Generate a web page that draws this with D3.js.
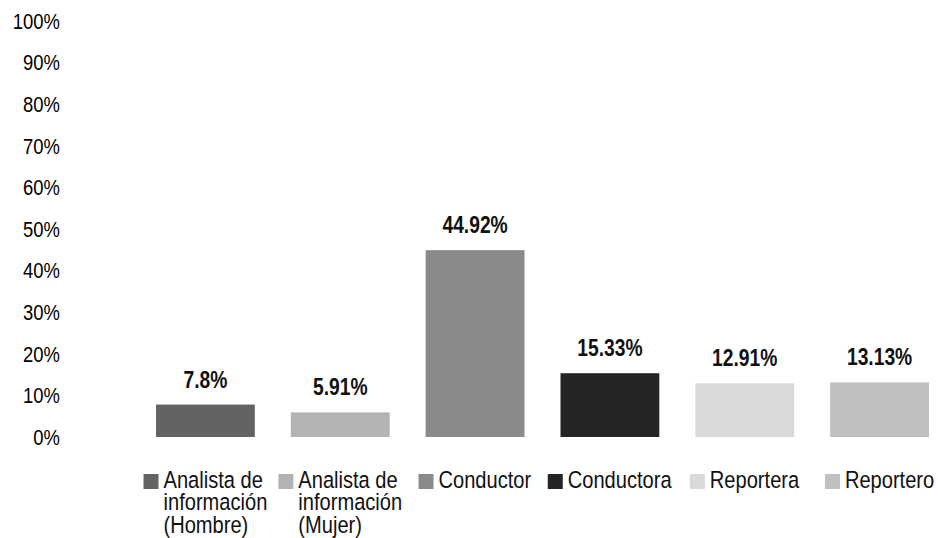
<!DOCTYPE html>
<html>
<head>
<meta charset="utf-8">
<script src="https://cdn.jsdelivr.net/npm/d3@7"></script>
<style>
  html, body { margin: 0; padding: 0; background: #fff; }
  svg { display: block; font-family: "Liberation Sans", Arial, sans-serif; }
</style>
</head>
<body>
<svg id="chart" width="938" height="538"></svg>
<script>
// Distribución por rol
const categories = [
  "Analista de información (Hombre)",
  "Analista de información (Mujer)",
  "Conductor",
  "Conductora",
  "Reportera",
  "Reportero"
];
const values = [7.8, 5.91, 44.92, 15.33, 12.91, 13.13];
const colors = ["#636363", "#b3b3b3", "#8a8a8a", "#242424", "#d9d9d9", "#c0c0c0"];
const yTicks = [0, 10, 20, 30, 40, 50, 60, 70, 80, 90, 100];

// narrow look: horizontally condensed glyphs
const NARROW = 0.82;

const svg = d3.select("#chart");

const x = d3.scaleBand()
  .domain(categories)
  .range([156, 929])
  .paddingInner(0.267)
  .paddingOuter(0);

const y = d3.scaleLinear()
  .domain([0, 100])
  .range([437, 21]);

const color = d3.scaleOrdinal().domain(categories).range(colors);

// Y axis: labels only, no line or tick marks
const yAxis = d3.axisLeft(y)
  .tickValues(yTicks)
  .tickFormat(d => d + "%")
  .tickSize(0)
  .tickPadding(0);

const gy = svg.append("g")
  .attr("transform", "translate(60,0)")
  .call(yAxis);
gy.select(".domain").remove();
gy.selectAll("text")
  .attr("fill", "#000")
  .attr("transform", `scale(${NARROW},1)`)
  .style("font-size", "22.5px")
  .style("font-family", null);

// Bars
svg.append("g")
  .selectAll("rect")
  .data(categories)
  .join("rect")
  .attr("x", d => x(d))
  .attr("y", (d, i) => y(values[i]))
  .attr("width", x.bandwidth())
  .attr("height", (d, i) => y(0) - y(values[i]))
  .attr("fill", d => color(d));

// Value labels
svg.append("g")
  .selectAll("g")
  .data(categories)
  .join("g")
  .attr("transform", (d, i) =>
    `translate(${x(d) + x.bandwidth() / 2},${y(values[i]) - 17}) scale(${NARROW},1)`)
  .append("text")
  .attr("text-anchor", "middle")
  .attr("font-weight", "bold")
  .attr("font-size", 23.5)
  .attr("fill", "#111")
  .text((d, i) => values[i] + "%");

// Legend, each entry centred under its bar, long names wrapped
const legendY = 488;
const lineH = 22.5;
const maxW = 112;
const legend = svg.append("g");

categories.forEach(cat => {
  const g = legend.append("g");
  g.append("rect")
    .attr("width", 15)
    .attr("height", 15)
    .attr("y", legendY - 14)
    .attr("fill", color(cat));
  const t = g.append("g")
    .attr("transform", `translate(20,${legendY}) scale(${NARROW},1)`)
    .append("text")
    .attr("font-size", 24.5)
    .attr("fill", "#111");
  const words = cat.split(" ");
  let line = [];
  let lineNo = 0;
  let ts = t.append("tspan").attr("x", 0).attr("y", 0);
  words.forEach(w => {
    line.push(w);
    ts.text(line.join(" "));
    if (ts.node().getComputedTextLength() * NARROW > maxW && line.length > 1) {
      line.pop();
      ts.text(line.join(" "));
      line = [w];
      lineNo += 1;
      ts = t.append("tspan").attr("x", 0).attr("y", lineNo * lineH).text(w);
    }
  });
  const w = g.node().getBBox().width;
  const cx = x(cat) + x.bandwidth() / 2;
  g.attr("transform", `translate(${cx - w / 2},0)`);
});
</script>
</body>
</html>
